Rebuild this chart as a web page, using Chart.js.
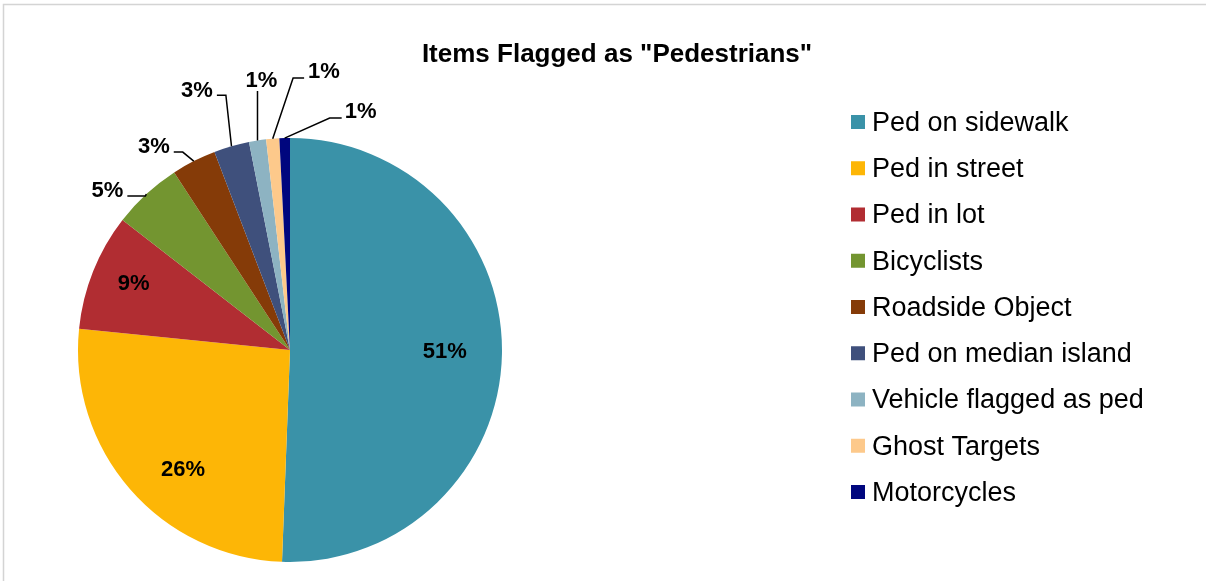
<!DOCTYPE html>
<html>
<head>
<meta charset="utf-8">
<script src="https://cdn.jsdelivr.net/npm/chart.js@4.4.1/dist/chart.umd.min.js"></script>
<style>
  html, body { margin: 0; padding: 0; background: #ffffff; }
  #wrap { width: 1206px; height: 581px; position: relative; }
</style>
</head>
<body>
<div id="wrap"><canvas id="c" width="1206" height="581"></canvas></div>
<script>
// ---- data ----
const chartTitle = 'Items Flagged as "Pedestrians"';
const categories = ['Ped on sidewalk', 'Ped in street', 'Ped in lot', 'Bicyclists', 'Roadside Object',
                    'Ped on median island', 'Vehicle flagged as ped', 'Ghost Targets', 'Motorcycles'];
const values = [50.6, 26.0, 8.9, 5.3, 3.4, 2.7, 1.3, 1.0, 0.8];
const pctLabels = ['51%', '26%', '9%', '5%', '3%', '3%', '1%', '1%', '1%'];
const colors = ['#3A92A8', '#FDB606', '#B12D32', '#739530', '#853B08',
                '#3F507C', '#8DB3C2', '#FDC98B', '#00067E'];

// ---- label placement (styling, not data) ----
// inside: fraction of radius along slice mid-angle (+ small pixel nudge)
// path: leader line points relative to the slice's outer mid point
const labelLayout = [
  { inside: 0.73, dx: 0, dy: -1 },
  { inside: 0.75, dx: 13, dy: 16 },
  { inside: 0.81, dx: 3, dy: -2 },
  { path: [[-1, 2], [-19, 2]], align: 'right', dx: -4, dy: 1 },
  { path: [[-11, -9], [-20, -9]], align: 'right', dx: -4, dy: 1 },
  { path: [[-5.6, -51], [-14.6, -51]], align: 'right', dx: -4, dy: 2 },
  { path: [[0, -49.5]], align: 'center', dx: 4, dy: -4 },
  { path: [[20.4, -60.7], [31.4, -60.7]], align: 'left', dx: 4, dy: 0 },
  { path: [[45, -20], [57, -20]], align: 'left', dx: 3, dy: 0 }
];

const FONT = '"Liberation Sans", Arial, Helvetica, sans-serif';

const decorPlugin = {
  id: 'decor',
  afterDraw(chart) {
    const ctx = chart.ctx;
    ctx.save();
    // outer chart border (clipped at right/bottom)
    ctx.strokeStyle = '#d4d4d4';
    ctx.lineWidth = 1.5;
    ctx.beginPath();
    ctx.moveTo(3.5, 581);
    ctx.lineTo(3.5, 4.5);
    ctx.lineTo(1206, 4.5);
    ctx.stroke();

    // title
    ctx.fillStyle = '#000000';
    ctx.font = 'bold 26px ' + FONT;
    ctx.textAlign = 'center';
    ctx.textBaseline = 'alphabetic';
    ctx.fillText(chartTitle, 617, 62);

    // data labels
    const meta = chart.getDatasetMeta(0);
    ctx.font = 'bold 22px ' + FONT;
    meta.data.forEach((arc, i) => {
      const p = arc.getProps(['x', 'y', 'startAngle', 'endAngle', 'outerRadius'], true);
      const mid = (p.startAngle + p.endAngle) / 2;
      const lay = labelLayout[i];
      if (lay.inside) {
        const r = p.outerRadius * lay.inside;
        ctx.textAlign = 'center';
        ctx.textBaseline = 'middle';
        ctx.fillText(pctLabels[i], p.x + Math.cos(mid) * r + lay.dx, p.y + Math.sin(mid) * r + lay.dy);
      } else {
        const ax = p.x + Math.cos(mid) * p.outerRadius;
        const ay = p.y + Math.sin(mid) * p.outerRadius;
        ctx.strokeStyle = '#000000';
        ctx.lineWidth = 1.5;
        ctx.beginPath();
        ctx.moveTo(ax, ay);
        let ex = ax, ey = ay;
        lay.path.forEach(pt => { ex = ax + pt[0]; ey = ay + pt[1]; ctx.lineTo(ex, ey); });
        ctx.stroke();
        ctx.textAlign = lay.align;
        ctx.textBaseline = 'alphabetic';
        ctx.fillText(pctLabels[i], ex + lay.dx, ey + lay.dy);
      }
    });

    // legend
    ctx.font = '27px ' + FONT;
    ctx.textAlign = 'left';
    ctx.textBaseline = 'middle';
    categories.forEach((name, i) => {
      const y = 122 + i * 46.25;
      ctx.fillStyle = colors[i];
      ctx.fillRect(851, y - 7, 14, 14);
      ctx.fillStyle = '#000000';
      ctx.fillText(name, 872, y + 1.5);
    });
    ctx.restore();
  }
};

new Chart(document.getElementById('c'), {
  type: 'pie',
  data: {
    labels: categories,
    datasets: [{
      data: values,
      backgroundColor: colors,
      borderWidth: 0
    }]
  },
  options: {
    responsive: false,
    animation: false,
    layout: { padding: { left: 78, top: 138, right: 704, bottom: 19 } },
    plugins: {
      legend: { display: false },
      title: { display: false },
      tooltip: { enabled: false }
    }
  },
  plugins: [decorPlugin]
});
</script>
</body>
</html>
